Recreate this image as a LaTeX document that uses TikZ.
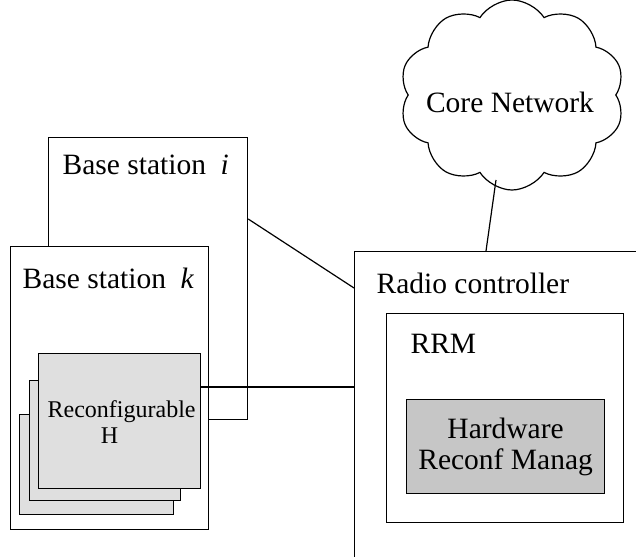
\documentclass[tikz,border=0pt]{standalone}
\usepackage{fontspec}
\setmainfont{Liberation Serif}
\usetikzlibrary{shapes,shapes.symbols,positioning}
\tikzstyle{box} = [rectangle, draw, fill=white, anchor=north west, inner sep=0pt]
\tikzstyle{hwcard} = [rectangle, draw, fill=gray!25, anchor=north west, inner sep=0pt]
\tikzstyle{manager} = [rectangle, draw, fill=gray!45, anchor=north west, inner sep=0pt]
\tikzstyle{label} = [anchor=base west, inner sep=0pt, font=\fontsize{29.5}{31}\selectfont]
\tikzstyle{line} = [draw]

\begin{document}
\begin{tikzpicture}[x=1pt, y=-1pt, line width=1.2pt]
        \useasboundingbox (0,0) rectangle (636,556);
        \clip (0,0) rectangle (636,556);

        % Place nodes
        \node [box, minimum width=199pt, minimum height=282pt] (bsi) at (48,137) {};
        \node [label] (bsilabel) at (62,175) {Base station \ \textit{i}};
        \node [box, minimum width=198pt, minimum height=283pt] (bsk) at (10,246) {};
        \node [label] (bsklabel) at (22,288) {Base station \ \textit{k}};
        \node [hwcard, minimum width=154pt, minimum height=100pt] (rh3) at (19,414) {};
        \node [hwcard, minimum width=151pt, minimum height=120pt] (rh2) at (29,380) {};
        \node [hwcard, minimum width=162pt, minimum height=135pt] (rh1) at (38,353) {};
        \node [align=center, font=\fontsize{24}{26}\selectfont, anchor=north, inner sep=0pt]
            (rhlabel) at ([yshift=-47pt, xshift=2pt]rh1.north) {Reconfigurable\\H\hspace*{1em}};

        \node [cloud, draw, cloud puffs=10, cloud puff arc=115, cloud ignores aspect,
            minimum width=225pt, minimum height=190pt, inner sep=0pt] (core) at (512,95) {};
        \node [anchor=base, inner sep=0pt, font=\fontsize{29.5}{31}\selectfont]
            (corelabel) at (510,113) {Core Network};

        \node [box, minimum width=400pt, minimum height=400pt] (radio) at (354,251) {};
        \node [label] (radiolabel) at (376,293) {Radio controller};
        \node [box, minimum width=237pt, minimum height=209pt] (rrm) at (386,313) {};
        \node [label] (rrmlabel) at (410,353) {RRM};
        \node [manager, minimum width=198pt, minimum height=94pt, align=center,
            font=\fontsize{29.5}{31}\selectfont] (hrm) at (406,399) {Hardware\\Reconf Manag};

        % Draw edges
        \path [line] ([yshift=-82pt]bsi.north east) -- ([yshift=-37pt]radio.north west);
        \path [line] ([yshift=-34pt]rh1.north east) coordinate (rhout) -- (rhout -| radio.west);
        \path [line] ([xshift=-16pt, yshift=-85pt]core.center) -- ([xshift=132pt]radio.north west);
\end{tikzpicture}
\end{document}
